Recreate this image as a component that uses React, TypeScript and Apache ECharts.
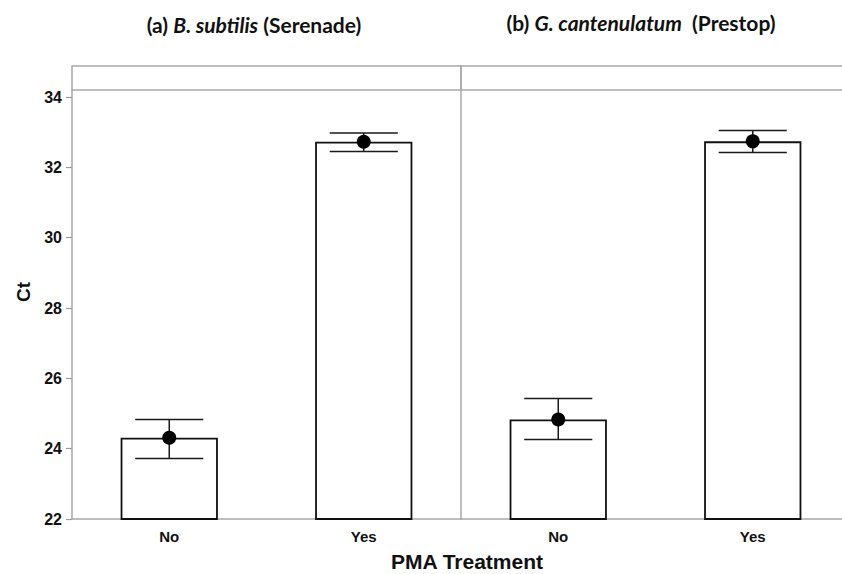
import React, { useEffect, useRef } from "react";
import * as echarts from "echarts";

const categories = ["No", "Yes"];
const yTicks = [22, 24, 26, 28, 30, 32, 34];
const serenadeMean = [24.31, 32.73];
const serenadeLow = [23.72, 32.45];
const serenadeHigh = [24.83, 32.98];
const prestopMean = [24.83, 32.74];
const prestopLow = [24.26, 32.42];
const prestopHigh = [25.43, 33.05];

const Y_MIN = 22;
const Y_MAX = 34.2;

export default function App() {
  const ref = useRef<HTMLDivElement>(null);

  useEffect(() => {
    document.body.style.margin = "0";
    const chart = echarts.init(ref.current!, null, { renderer: "svg" });

    const errorItem = (params: any, api: any) => {
      const x = api.value(0);
      const lo = api.value(1);
      const hi = api.value(2);
      const pLo = api.coord([x, lo]);
      const pHi = api.coord([x, hi]);
      const half = api.size([1, 0])[0] * 0.175;
      const style = { stroke: "#1a1a1a", lineWidth: 1.5 };
      return {
        type: "group",
        children: [
          { type: "line", shape: { x1: pHi[0], y1: pHi[1], x2: pLo[0], y2: pLo[1] }, style },
          { type: "line", shape: { x1: pHi[0] - half, y1: pHi[1], x2: pHi[0] + half, y2: pHi[1] }, style },
          { type: "line", shape: { x1: pLo[0] - half, y1: pLo[1], x2: pLo[0] + half, y2: pLo[1] }, style },
        ],
      };
    };

    const titleRich = {
      n: { fontFamily: "Lato", fontWeight: "bold", fontSize: 21, fill: "#111" },
      i: { fontFamily: "Lato", fontWeight: "bold", fontStyle: "italic", fontSize: 21, fill: "#111" },
    };

    const makeX = (gi: number, tickColor: string) => ({
      type: "category",
      gridIndex: gi,
      data: categories,
      boundaryGap: true,
      axisLine: { lineStyle: { color: "#a8a8a8", width: 1.5 } },
      axisTick: { alignWithLabel: true, length: 6, lineStyle: { color: tickColor, width: 1.2 } },
      axisLabel: { margin: 10, color: "#111", fontFamily: "Liberation Sans", fontWeight: "bold", fontSize: 15 },
      splitLine: { show: false },
    });

    const makeSeries = (gi: number, mean: number[], low: number[], high: number[]) => [
      {
        type: "bar",
        xAxisIndex: gi,
        yAxisIndex: gi,
        data: mean,
        barWidth: "50%",
        itemStyle: { color: "#ffffff", borderColor: "#111", borderWidth: 1.8 },
        z: 2,
      },
      {
        type: "custom",
        xAxisIndex: gi,
        yAxisIndex: gi,
        renderItem: errorItem,
        data: categories.map((_, i) => [i, low[i], high[i]]),
        z: 3,
      },
      {
        type: "scatter",
        xAxisIndex: gi,
        yAxisIndex: gi,
        data: categories.map((_, i) => [i, mean[i]]),
        symbol: "circle",
        symbolSize: 14,
        itemStyle: { color: "#000", opacity: 1 },
        z: 4,
      },
    ];

    chart.setOption({
      animation: false,
      backgroundColor: "#ffffff",
      grid: [
        { left: 72, top: 90, width: 389, bottom: 55, outerBoundsMode: "none", containLabel: false },
        { left: 461, top: 90, width: 389, bottom: 55, outerBoundsMode: "none", containLabel: false },
      ],
      xAxis: [makeX(0, "#999"), makeX(1, "#333")],
      yAxis: [
        {
          type: "value",
          gridIndex: 0,
          min: Y_MIN,
          max: Y_MAX,
          interval: 2,
          axisLine: { show: true, lineStyle: { color: "#a8a8a8", width: 1.5 } },
          axisTick: { show: true, length: 6, lineStyle: { color: "#999", width: 1.2 }, customValues: yTicks },
          axisLabel: {
            margin: 10,
            color: "#111",
            fontFamily: "Liberation Sans",
            fontWeight: "bold",
            fontSize: 16,
            customValues: yTicks,
          },
          splitLine: { show: false },
        },
        {
          type: "value",
          gridIndex: 1,
          min: Y_MIN,
          max: Y_MAX,
          interval: 2,
          axisLine: { show: true, lineStyle: { color: "#a8a8a8", width: 1.5 } },
          axisTick: { show: false },
          axisLabel: { show: false },
          splitLine: { show: false },
        },
      ],
      series: [
        ...makeSeries(0, serenadeMean, serenadeLow, serenadeHigh),
        ...makeSeries(1, prestopMean, prestopLow, prestopHigh),
      ],
      graphic: [
        {
          type: "rect",
          shape: { x: 72, y: 66, width: 389, height: 24 },
          style: { fill: "none", stroke: "#a8a8a8", lineWidth: 1.5 },
          silent: true,
        },
        {
          type: "rect",
          shape: { x: 461, y: 66, width: 389, height: 24 },
          style: { fill: "none", stroke: "#a8a8a8", lineWidth: 1.5 },
          silent: true,
        },
        {
          type: "text",
          x: 254,
          y: 24,
          style: {
            text: "{n|(a) }{i|B. subtilis}{n| (Serenade)}",
            align: "center",
            verticalAlign: "middle",
            rich: titleRich,
          },
        },
        {
          type: "text",
          x: 641,
          y: 22,
          style: {
            text: "{n|(b) }{i|G. cantenulatum}{n|  (Prestop)}",
            align: "center",
            verticalAlign: "middle",
            rich: titleRich,
          },
        },
        {
          type: "text",
          x: 23,
          y: 292,
          rotation: Math.PI / 2,
          style: {
            text: "Ct",
            align: "center",
            verticalAlign: "middle",
            fontFamily: "Liberation Sans",
            fontWeight: "bold",
            fontSize: 19,
            fill: "#111",
          },
        },
        {
          type: "text",
          x: 467,
          y: 561,
          style: {
            text: "PMA Treatment",
            align: "center",
            verticalAlign: "middle",
            fontFamily: "Liberation Sans",
            fontWeight: "bold",
            fontSize: 21,
            fill: "#111",
          },
        },
      ],
    });

    return () => chart.dispose();
  }, []);

  return <div ref={ref} style={{ width: 842, height: 574 }} />;
}
